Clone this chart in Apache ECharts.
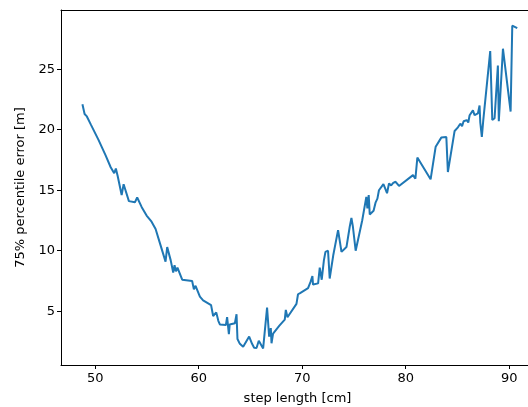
<!DOCTYPE html>
<html>
<head>
<meta charset="utf-8">
<script src="https://cdn.jsdelivr.net/npm/echarts@6/dist/echarts.min.js"></script>
<style>
html,body{margin:0;padding:0;background:#fff;}
#chart{width:528px;height:407px;}
</style>
</head>
<body>
<div id="chart"></div>
<script>
var stepLength = [
  48.77, 48.98, 49.2, 49.6, 50.3, 51.0, 51.5, 51.84, 52.0, 52.17,
  52.56, 52.75, 53.26, 53.84, 54.06, 54.5, 54.97, 55.45, 55.84, 56.3,
  56.8, 56.96, 57.3, 57.54, 57.67, 57.8, 57.95, 58.41, 59.37, 59.54,
  59.7, 60.12, 60.28, 60.43, 61.2, 61.4, 61.7, 61.9, 62.05, 62.63,
  62.75, 62.92, 63.0, 63.5, 63.66, 63.75, 63.98, 64.3, 64.88, 65.16,
  65.36, 65.59, 65.81, 66.0, 66.23, 66.61, 66.81, 66.97, 67.04, 67.19,
  67.8, 68.32, 68.42, 68.58, 69.45, 69.6, 69.8, 70.57, 70.8, 70.99,
  71.05, 71.54, 71.7, 71.89, 72.1, 72.25, 72.5, 72.66, 73.0, 73.47,
  73.8, 74.28, 74.6, 74.76, 74.9, 75.17, 75.8, 76.2, 76.3, 76.43,
  76.53, 76.9, 77.1, 77.27, 77.42, 77.85, 78.0, 78.2, 78.39, 78.6,
  78.8, 79.03, 79.36, 80.71, 80.94, 81.13, 82.41, 82.9, 83.44, 83.93,
  84.08, 84.73, 85.05, 85.28, 85.45, 85.6, 85.9, 86.05, 86.18, 86.34,
  86.5, 86.66, 86.98, 87.14, 87.21, 87.36, 87.5, 88.17, 88.37, 88.59,
  88.91, 89.0, 89.4, 90.14, 90.3, 90.78
];
var errorP75 = [
  22.1, 21.3, 21.1, 20.4, 19.2, 17.9, 16.9, 16.4, 16.8, 16.2,
  14.6, 15.5, 14.1, 14.0, 14.4, 13.6, 12.9, 12.4, 11.8, 10.5,
  9.1, 10.3, 9.2, 8.2, 8.8, 8.3, 8.6, 7.6, 7.5, 6.8,
  7.1, 6.2, 6.3, 5.9, 5.5, 4.6, 4.9, 4.2, 3.9, 3.85,
  4.5, 3.1, 3.9, 4.0, 4.75, 2.7, 2.3, 2.05, 2.9, 2.3,
  1.97, 1.95, 2.55, 2.4, 1.92, 5.3, 2.9, 3.6, 2.35, 3.15,
  3.8, 4.3, 5.1, 4.5, 5.6, 6.4, 6.5, 6.9, 7.4, 7.9,
  7.2, 7.3, 8.6, 7.6, 9.2, 9.9, 10.0, 7.7, 9.6, 11.7,
  9.9, 10.3, 12.0, 12.7, 12.0, 10.0, 12.5, 14.45, 13.5, 14.6,
  13.0, 13.3, 14.0, 14.3, 15.0, 15.5, 15.2, 14.75, 15.55, 15.4,
  15.6, 15.7, 15.35, 16.25, 15.95, 17.7, 15.9, 18.6, 19.35, 19.4,
  16.5, 19.9, 20.2, 20.5, 20.3, 20.7, 20.8, 20.6, 21.2, 21.35,
  21.6, 21.2, 21.35, 22.0, 20.6, 19.4, 20.8, 26.5, 20.8, 20.95,
  25.3, 20.7, 26.7, 21.5, 28.6, 28.4
];
var xTicks = [50, 60, 70, 80, 90];
var yTicks = [5, 10, 15, 20, 25];
var xName = 'step length [cm]';
var yName = '75% percentile error [m]';

var points = stepLength.map(function (x, i) { return [x, errorP75[i]]; });
var font = 'DejaVu Sans';
var chart = echarts.init(document.getElementById('chart'), null, {renderer: 'canvas'});
chart.setOption({
  animation: false,
  backgroundColor: '#fff',
  grid: {left: 61, top: 10, width: 473, height: 355, outerBoundsMode: 'none', containLabel: false, show: false},
  xAxis: [{
    type: 'value', min: 46.7, max: 92.4,
    name: xName, nameLocation: 'middle', nameGap: 27,
    nameTextStyle: {fontFamily: font, fontSize: 13, color: '#000'},
    axisLine: {show: true, onZero: false, lineStyle: {color: '#000', width: 1}},
    axisTick: {show: true, length: 4, customValues: xTicks, lineStyle: {color: '#000', width: 1}},
    axisLabel: {customValues: xTicks, fontFamily: font, fontSize: 13, color: '#000', margin: 7},
    splitLine: {show: false}
  }, {
    type: 'value', position: 'top', min: 46.7, max: 92.4,
    axisLine: {show: true, onZero: false, lineStyle: {color: '#000', width: 1}},
    axisTick: {show: false}, axisLabel: {show: false}, splitLine: {show: false}
  }],
  yAxis: {
    type: 'value', min: 0.55, max: 29.9,
    name: yName, nameLocation: 'middle', nameGap: 30, nameRotate: 90,
    nameTextStyle: {fontFamily: font, fontSize: 13, color: '#000'},
    axisLine: {show: true, onZero: false, lineStyle: {color: '#000', width: 1}},
    axisTick: {show: true, length: 4, customValues: yTicks, lineStyle: {color: '#000', width: 1}},
    axisLabel: {customValues: yTicks, fontFamily: font, fontSize: 13, color: '#000', margin: 6},
    splitLine: {show: false}
  },
  series: [{
    type: 'line', data: points, showSymbol: false, symbol: 'none',
    lineStyle: {color: '#1f77b4', width: 2}, itemStyle: {color: '#1f77b4'}
  }]
});
</script>
</body>
</html>
